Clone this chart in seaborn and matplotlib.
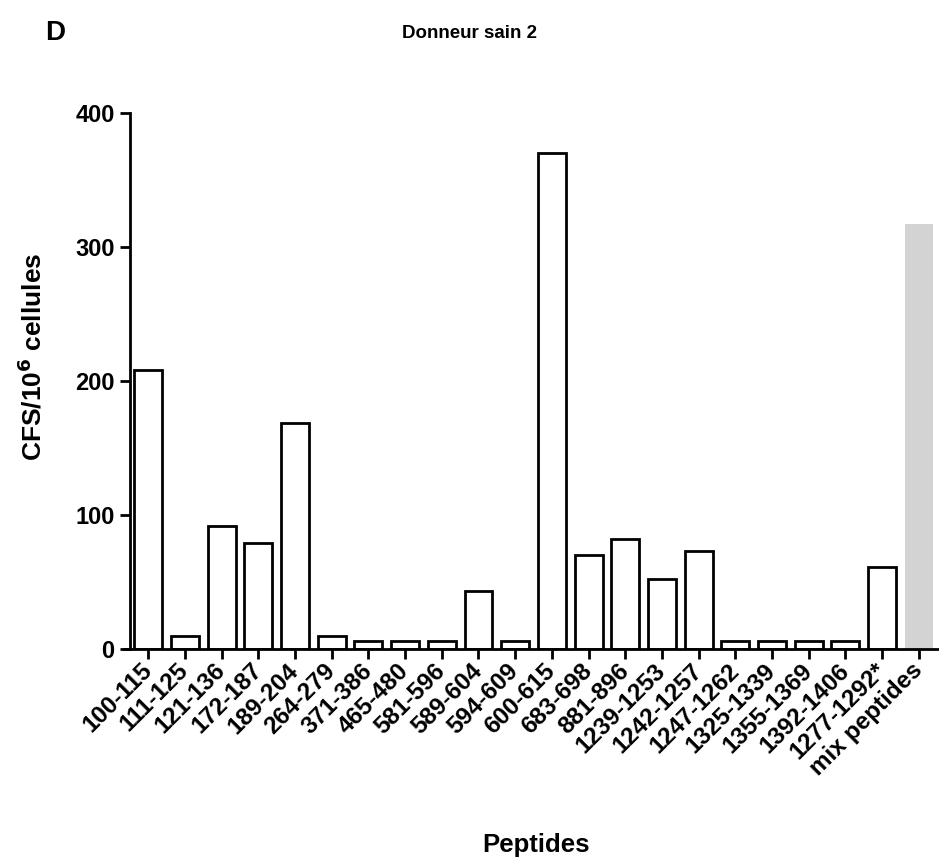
import matplotlib
matplotlib.use("Agg")
import matplotlib.pyplot as plt
import seaborn as sns
import pandas as pd

peptides = ["100-115", "111-125", "121-136", "172-187", "189-204", "264-279",
            "371-386", "465-480", "581-596", "589-604", "594-609", "600-615",
            "683-698", "881-896", "1239-1253", "1242-1257", "1247-1262",
            "1325-1339", "1355-1369", "1392-1406", "1277-1292*", "mix peptides"]
cfs = [208, 10, 92, 79, 169, 10, 6, 6, 6, 43, 6, 370,
       70, 82, 52, 73, 6, 6, 6, 6, 61, 317]
y_ticks = [0, 100, 200, 300, 400]

sns.set_theme(style="ticks")
plt.rcParams["font.family"] = ["Liberation Sans", "DejaVu Sans"]
plt.rcParams["font.weight"] = "bold"
for k in ["text.color", "axes.labelcolor", "xtick.color", "ytick.color",
          "axes.edgecolor"]:
    plt.rcParams[k] = "black"

df = pd.DataFrame({"peptide": peptides, "cfs": cfs})
fill = {p: ("#d3d3d3" if p == "mix peptides" else "white") for p in peptides}

fig = plt.figure(figsize=(9.39, 8.65), dpi=100)
ax = fig.add_axes([124 / 939, 1 - 649 / 865, 815 / 939, 536 / 865])

sns.barplot(data=df, x="peptide", y="cfs", hue="peptide", palette=fill,
            legend=False, width=0.76, saturation=1, ax=ax)
for patch, p in zip(ax.patches, peptides):
    if p == "mix peptides":
        patch.set_edgecolor("none")
        patch.set_linewidth(0)
    else:
        patch.set_edgecolor("black")
        patch.set_linewidth(2.0)

ax.set_ylim(0, 400)
ax.set_xlim(-0.66, 21.55)
ax.spines["left"].set_position(("data", -0.5))
ax.set_yticks(y_ticks)
ax.set_yticklabels([str(v) for v in y_ticks], fontsize=17, fontweight="bold")
ax.set_xticks(range(len(peptides)))
ax.set_xticklabels(peptides, rotation=45, ha="right", va="center",
                   rotation_mode="anchor", fontsize=17.5, fontweight="bold")

for s in ["top", "right"]:
    ax.spines[s].set_visible(False)
for s in ["left", "bottom"]:
    ax.spines[s].set_linewidth(2.0)
    ax.spines[s].set_color("black")
ax.tick_params(axis="both", width=2.0, length=7, color="black", pad=4)
ax.tick_params(axis="x", pad=6)

ax.set_xlabel("Peptides", fontsize=18.5, fontweight="bold")
ax.xaxis.set_label_coords(0.505, -0.366)
ax.xaxis.label.set_va("center")
ax.set_ylabel(r"CFS/10$^\mathbf{6}$ cellules", fontsize=19, fontweight="bold")
ax.yaxis.set_label_coords(-0.112, 0.545)
ax.yaxis.label.set_va("center")

fig.text(470 / 939, 1 - 33 / 865, "Donneur sain 2", ha="center", va="center",
         fontsize=13.5, fontweight="bold")
fig.text(45 / 939, 1 - 33 / 865, "D", ha="left", va="center",
         fontsize=20, fontweight="bold")

fig.savefig("out.png", dpi=100)
